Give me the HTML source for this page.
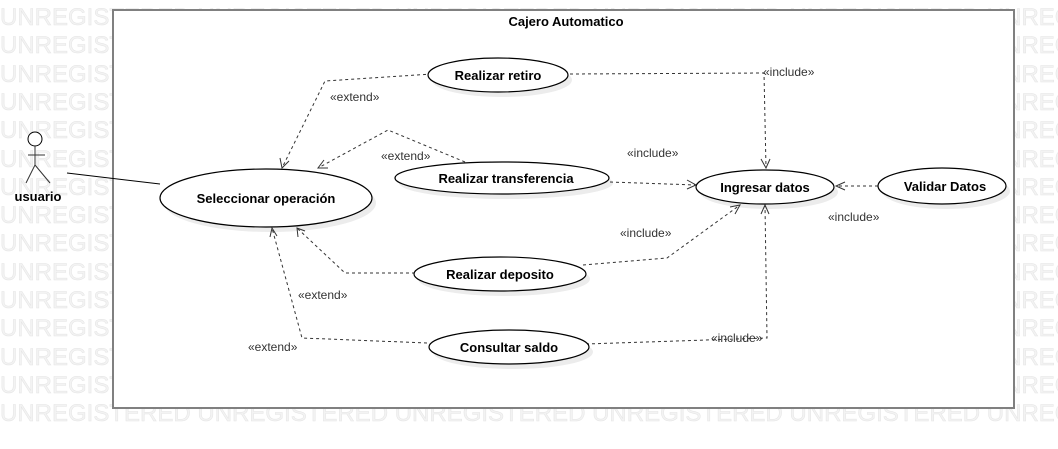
<!DOCTYPE html>
<html><head><meta charset="utf-8"><style>
html,body{margin:0;padding:0;background:#fff;}
svg{display:block;font-family:"Liberation Sans",sans-serif;}
.wm{font-size:24px;fill:#f3f3f3;stroke:#e4e4e4;stroke-width:0.5;}
.b{font-weight:bold;font-size:13px;fill:#000;}
.l{font-size:12px;fill:#333;}
.d{fill:none;stroke:#333;stroke-width:1;stroke-dasharray:3,3;}
.a{fill:none;stroke:#333;stroke-width:1;}
.e{fill:#fff;stroke:#000;stroke-width:1.2;}
.s{fill:#ececec;}
</style></head><body>
<svg width="1058" height="449" viewBox="0 0 1058 449">
<g class="wm">
<text x="0" y="25">UNREGISTERED UNREGISTERED UNREGISTERED UNREGISTERED UNREGISTERED UNREGISTERED</text>
<text x="0" y="53">UNREGISTERED UNREGISTERED UNREGISTERED UNREGISTERED UNREGISTERED UNREGISTERED</text>
<text x="0" y="82">UNREGISTERED UNREGISTERED UNREGISTERED UNREGISTERED UNREGISTERED UNREGISTERED</text>
<text x="0" y="110">UNREGISTERED UNREGISTERED UNREGISTERED UNREGISTERED UNREGISTERED UNREGISTERED</text>
<text x="0" y="138">UNREGISTERED UNREGISTERED UNREGISTERED UNREGISTERED UNREGISTERED UNREGISTERED</text>
<text x="0" y="167">UNREGISTERED UNREGISTERED UNREGISTERED UNREGISTERED UNREGISTERED UNREGISTERED</text>
<text x="0" y="195">UNREGISTERED UNREGISTERED UNREGISTERED UNREGISTERED UNREGISTERED UNREGISTERED</text>
<text x="0" y="223">UNREGISTERED UNREGISTERED UNREGISTERED UNREGISTERED UNREGISTERED UNREGISTERED</text>
<text x="0" y="251">UNREGISTERED UNREGISTERED UNREGISTERED UNREGISTERED UNREGISTERED UNREGISTERED</text>
<text x="0" y="280">UNREGISTERED UNREGISTERED UNREGISTERED UNREGISTERED UNREGISTERED UNREGISTERED</text>
<text x="0" y="308">UNREGISTERED UNREGISTERED UNREGISTERED UNREGISTERED UNREGISTERED UNREGISTERED</text>
<text x="0" y="336">UNREGISTERED UNREGISTERED UNREGISTERED UNREGISTERED UNREGISTERED UNREGISTERED</text>
<text x="0" y="365">UNREGISTERED UNREGISTERED UNREGISTERED UNREGISTERED UNREGISTERED UNREGISTERED</text>
<text x="0" y="393">UNREGISTERED UNREGISTERED UNREGISTERED UNREGISTERED UNREGISTERED UNREGISTERED</text>
<text x="0" y="421">UNREGISTERED UNREGISTERED UNREGISTERED UNREGISTERED UNREGISTERED UNREGISTERED</text>
</g>
<rect x="113" y="10" width="901" height="398" fill="#fff" stroke="#808080" stroke-width="2"/>
<text x="566" y="26" text-anchor="middle" class="b">Cajero Automatico</text>

<circle cx="35" cy="139" r="7" fill="#fff" stroke="#000"/>
<path class="a" d="M35 146V165M28 155H45M35 165L26 183M35 165L50 183" stroke="#000"/>
<text x="38" y="201" text-anchor="middle" class="b">usuario</text>
<line x1="67" y1="173" x2="160" y2="184" stroke="#000"/>

<ellipse class="s" cx="270" cy="203" rx="106" ry="29"/>
<ellipse class="s" cx="502" cy="80" rx="70" ry="17"/>
<ellipse class="s" cx="506" cy="183" rx="107" ry="16"/>
<ellipse class="s" cx="769" cy="192" rx="69" ry="17"/>
<ellipse class="s" cx="946" cy="191" rx="64" ry="18"/>
<ellipse class="s" cx="504" cy="279" rx="86" ry="17"/>
<ellipse class="s" cx="513" cy="352" rx="80" ry="17"/>

<path class="d" d="M432 74L325 81L282 168"/>
<path class="a" d="M280 158L282 168L289 161"/>
<path class="d" d="M465 162L388 130L318 168"/>
<path class="a" d="M324 160L318 168L328 168"/>
<path class="d" d="M570 74L764 73L766 168"/>
<path class="a" d="M761 159L766 168L770 159"/>
<path class="d" d="M610 182L696 185"/>
<path class="a" d="M687 180L696 185L687 189"/>
<path class="d" d="M878 186L836 186"/>
<path class="a" d="M845 182L836 186L845 190"/>
<path class="d" d="M583 265L667 258L740 205"/>
<path class="a" d="M730 207L740 205L735 214"/>
<path class="d" d="M586 344L767 338L765 205"/>
<path class="a" d="M761 214L765 205L769 214"/>
<path class="d" d="M415 273L345 273L297 228"/>
<path class="a" d="M298 237L297 228L305 231"/>
<path class="d" d="M427 343L302 338L272 228"/>
<path class="a" d="M270 237L272 228L277 236"/>

<text x="330" y="101" class="l">«extend»</text>
<text x="381" y="160" class="l">«extend»</text>
<text x="763" y="76" class="l">«include»</text>
<text x="627" y="157" class="l">«include»</text>
<text x="828" y="221" class="l">«include»</text>
<text x="620" y="237" class="l">«include»</text>
<text x="711" y="342" class="l">«include»</text>
<text x="298" y="299" class="l">«extend»</text>
<text x="248" y="351" class="l">«extend»</text>

<ellipse class="e" cx="266" cy="198" rx="106" ry="29"/>
<text x="266" y="203" text-anchor="middle" class="b">Seleccionar operación</text>
<ellipse class="e" cx="498" cy="75" rx="70" ry="17"/>
<text x="498" y="80" text-anchor="middle" class="b">Realizar retiro</text>
<ellipse class="e" cx="502" cy="178" rx="107" ry="16"/>
<text x="506" y="183" text-anchor="middle" class="b">Realizar transferencia</text>
<ellipse class="e" cx="765" cy="187" rx="69" ry="17"/>
<text x="765" y="192" text-anchor="middle" class="b">Ingresar datos</text>
<ellipse class="e" cx="942" cy="186" rx="64" ry="18"/>
<text x="945" y="191" text-anchor="middle" class="b">Validar Datos</text>
<ellipse class="e" cx="500" cy="274" rx="86" ry="17"/>
<text x="500" y="279" text-anchor="middle" class="b">Realizar deposito</text>
<ellipse class="e" cx="509" cy="347" rx="80" ry="17"/>
<text x="509" y="352" text-anchor="middle" class="b">Consultar saldo</text>
</svg>
</body></html>
